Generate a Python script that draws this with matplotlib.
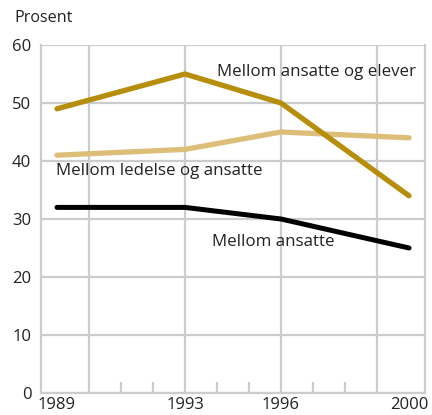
import matplotlib
matplotlib.use("Agg")
import matplotlib.pyplot as plt

plt.rcParams['font.family'] = ['Open Sans', 'DejaVu Sans']

years_a = [1989, 1993, 1996, 2000]
elever = [49, 55, 50, 34]
ledelse = [41, 42, 45, 44]
years_b = [1989, 1990, 1991, 1992, 1993, 1996, 2000]
ansatte = [32, 32, 32, 32, 32, 30, 25]

label_years = [1989, 1993, 1996, 2000]
grid_years = [1990, 1993, 1996, 1999]
minor_years = [1989, 1991, 1992, 1994, 1995, 1997, 1998, 2000]
yticks = [0, 10, 20, 30, 40, 50, 60]

gold = '#B68E0B'
light = '#DDBE78'
gridc = '#CCCCCC'
txt = '#222222'

fig = plt.figure(figsize=(4.32, 4.15), dpi=100)
ax = fig.add_axes([41/432, 1-393/415, 384/432, 348/415])

ax.set_xlim(1988.5, 2000.5)
ax.set_ylim(0, 60)

for y in yticks:
    ax.axhline(y, color=gridc, lw=1.6, zorder=0)
for x in grid_years:
    ax.axvline(x, color=gridc, lw=1.6, zorder=0)

ax.plot(years_a, elever, color=gold, lw=3.8, solid_capstyle='round', solid_joinstyle='miter', zorder=3)
ax.plot(years_a, ledelse, color=light, lw=3.8, solid_capstyle='round', zorder=2)
ax.plot(years_b, ansatte, color='black', lw=3.6, solid_capstyle='round', zorder=3)

for s in ax.spines.values():
    s.set_color(gridc)
    s.set_linewidth(1.6)
ax.spines['top'].set_visible(False)

ax.set_xticks(label_years)
ax.set_xticklabels([str(y) for y in label_years])
ax.set_xticks(minor_years, minor=True)
ax.tick_params(axis='x', which='major', length=0, pad=3, labelsize=12, labelcolor=txt)
ax.tick_params(axis='x', which='minor', length=8, width=1.6, color=gridc, direction='in')
ax.set_yticks(yticks)
ax.tick_params(axis='y', which='major', length=0, pad=7, labelsize=12, labelcolor=txt)

fig.text(14/432, 1-18/415, 'Prosent', fontsize=11.6, color=txt, va='center', ha='left')

ax.text(1994.0, 55.3, 'Mellom ansatte og elever', fontsize=12.2, color=txt, va='center', ha='left')
ax.text(1988.97, 38.3, 'Mellom ledelse og ansatte', fontsize=12.2, color=txt, va='center', ha='left')
ax.text(1993.84, 26.0, 'Mellom ansatte', fontsize=12.2, color=txt, va='center', ha='left')

fig.savefig('out.png', dpi=100)
